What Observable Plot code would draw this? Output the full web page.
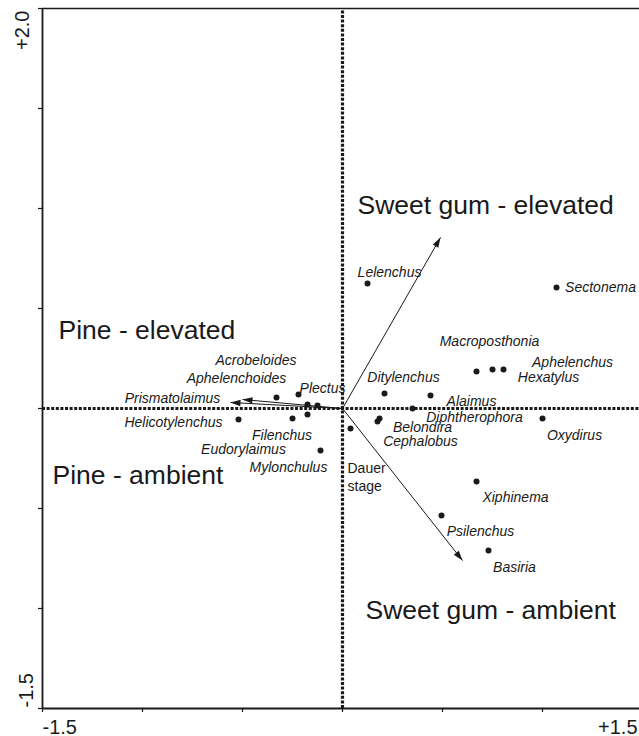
<!DOCTYPE html>
<html><head><meta charset="utf-8">
<script src="https://cdn.jsdelivr.net/npm/d3@7"></script>
<script src="https://cdn.jsdelivr.net/npm/@observablehq/plot@0.6"></script>
<style>body{margin:0;background:#fff} svg{display:block}</style>
</head><body><div id="chart"></div>
<script>
// Species scores (dots)
const dotX = [0.125, 1.07, 0.67, 0.75, 0.805, 0.21, 0.44, 0.35, 0.185, 0.175, 1.0, 0.04, 0.67, 0.495, 0.73,
              -0.33, -0.22, -0.175, -0.125, -0.175, -0.25, -0.52, -0.11];
const dotY = [0.625, 0.605, 0.185, 0.195, 0.195, 0.075, 0.065, 0.0, -0.05, -0.065, -0.05, -0.10, -0.365, -0.535, -0.71,
              0.055, 0.07, 0.02, 0.015, -0.03, -0.05, -0.055, -0.21];

// Species labels (italic)
const speciesNames = ["Lelenchus","Sectonema","Macroposthonia","Aphelenchus","Hexatylus","Ditylenchus","Alaimus",
  "Diphtherophora","Belondira","Cephalobus","Oxydirus","Xiphinema","Psilenchus","Basiria",
  "Acrobeloides","Aphelenchoides","Plectus","Prismatolaimus","Helicotylenchus","Filenchus","Eudorylaimus","Mylonchulus"];
const speciesLabelX = [0.235, 1.29, 0.735, 1.15, 1.03, 0.305, 0.645, 0.66, 0.40, 0.39, 1.16, 0.865, 0.69, 0.86,
  -0.4325, -0.53, -0.10, -0.85, -0.845, -0.3025, -0.495, -0.27];
const speciesLabelY = [0.68, 0.605, 0.335, 0.23, 0.155, 0.155, 0.035, -0.045, -0.095, -0.165, -0.135, -0.445, -0.615, -0.795,
  0.24, 0.15, 0.10, 0.05, -0.07, -0.135, -0.205, -0.295];

// Plain label (Dauer stage)
const plainNames = ["Dauer", "stage"];
const plainX = [0.025, 0.025];
const plainY = [-0.3025, -0.3925];

// Environmental arrows (treatments)
const arrowNames = ["Sweet gum - elevated", "Sweet gum - ambient", "Pine - elevated", "Pine - ambient"];
const arrowX = [0.49, 0.60, -0.50, -0.56];
const arrowY = [0.855, -0.76, 0.045, 0.03];

// Treatment labels
const groupNames = ["Sweet gum - elevated", "Pine - elevated", "Pine - ambient", "Sweet gum - ambient"];
const groupLabelX = [0.075, -1.42, -1.45, 0.115];
const groupLabelY = [0.975, 0.35, -0.375, -1.05];

// Axes
const xTicks = [-1.5, -1, -0.5, 0, 0.5, 1, 1.5];
const yTicks = [-1.5, -1, -0.5, 0, 0.5, 1, 1.5, 2];
const xTickLabelValues = [-1.5, 1.5];
const xTickLabels = ["-1.5", "+1.5"];
const yTickLabelValues = [2.0, -1.5];
const yTickLabels = ["+2.0", "-1.5"];

const dots = dotX.map((x, i) => ({x, y: dotY[i]}));
const species = speciesNames.map((name, i) => ({name, x: speciesLabelX[i], y: speciesLabelY[i]}));
const plain = plainNames.map((name, i) => ({name, x: plainX[i], y: plainY[i]}));
const arrows = arrowNames.map((name, i) => ({name, x: arrowX[i], y: arrowY[i]}));
const groups = groupNames.map((name, i) => ({name, x: groupLabelX[i], y: groupLabelY[i]}));

const headShape = {
  draw(context, l, r) {
    context.moveTo(0, -l);
    context.lineTo(-r, 0);
    context.lineTo(r, 0);
    context.closePath();
  }
};

const ink = "#1a1a1a";

const chart = Plot.plot({
  width: 639,
  height: 736,
  marginLeft: 42,
  marginRight: -3,
  marginTop: 8,
  marginBottom: 28,
  style: {fontFamily: "'Liberation Sans', Arial, sans-serif", background: "#fff", color: ink, overflow: "visible"},
  x: {domain: [-1.5, 1.5], range: [42, 642], axis: null},
  y: {domain: [-1.5, 2], range: [708, 8], axis: null},
  marks: [
    // dotted origin lines
    Plot.ruleX([0], {y1: -1.5, y2: 2, stroke: ink, strokeWidth: 3.2, strokeDasharray: "3,1.6"}),
    Plot.ruleY([0], {x1: -1.5, x2: 1.5, stroke: ink, strokeWidth: 3.2, strokeDasharray: "3,1.6"}),
    // frame lines
    Plot.ruleX([-1.5], {y1: -1.5, y2: 2, stroke: ink, strokeWidth: 1.8}),
    Plot.ruleY([-1.5], {x1: -1.5, x2: 1.5, stroke: ink, strokeWidth: 1.8}),
    Plot.ruleY([2], {x1: -1.5, x2: 1.5, stroke: ink, strokeWidth: 1.6}),
    // ticks
    Plot.axisX({ticks: xTicks, tickSize: 4, tickFormat: () => "", anchor: "bottom", label: null, stroke: ink, strokeWidth: 1.2}),
    Plot.axisY({ticks: yTicks, tickSize: 4, tickFormat: () => "", anchor: "left", label: null, stroke: ink, strokeWidth: 1.2}),
    // tick labels
    Plot.text([0], {x: () => xTickLabelValues[0], text: () => xTickLabels[0], frameAnchor: "bottom", textAnchor: "start", lineAnchor: "bottom", dy: 25, fontSize: 20, fill: ink}),
    Plot.text([0], {x: () => xTickLabelValues[1], text: () => xTickLabels[1], frameAnchor: "bottom", textAnchor: "end", lineAnchor: "bottom", dx: -5, dy: 25, fontSize: 20, fill: ink}),
    Plot.text([0], {y: () => yTickLabelValues[0], text: () => yTickLabels[0], frameAnchor: "left", rotate: -90, textAnchor: "end", lineAnchor: "bottom", dx: -14, dy: 2, fontSize: 20, fill: ink}),
    Plot.text([0], {y: () => yTickLabelValues[1], text: () => yTickLabels[1], frameAnchor: "left", rotate: -90, textAnchor: "start", lineAnchor: "bottom", dx: -10, dy: -1, fontSize: 20, fill: ink}),
    // arrows
    Plot.link(arrows, {x1: () => 0, y1: () => 0, x2: "x", y2: "y", stroke: ink, strokeWidth: 1}),
    Plot.vector(arrows, {x: "x", y: "y", rotate: d => Math.atan2(d.x, d.y) * 180 / Math.PI, length: 10, r: 3.2, shape: headShape, anchor: "end", fill: ink, stroke: "none"}),
    // species dots
    Plot.dot(dots, {x: "x", y: "y", r: 3, fill: ink, stroke: "none"}),
    // species labels
    Plot.text(species, {x: "x", y: "y", text: "name", fontStyle: "italic", fontSize: 14, fill: ink, textAnchor: "middle", lineAnchor: "middle"}),
    Plot.text(plain, {x: "x", y: "y", text: "name", fontSize: 14, fill: ink, textAnchor: "start", lineAnchor: "middle"}),
    // treatment labels
    Plot.text(groups, {x: "x", y: "y", text: "name", fontSize: 26.5, fill: ink, textAnchor: "start", lineAnchor: "bottom"})
  ]
});
document.getElementById("chart").appendChild(chart);
</script>
</body></html>
